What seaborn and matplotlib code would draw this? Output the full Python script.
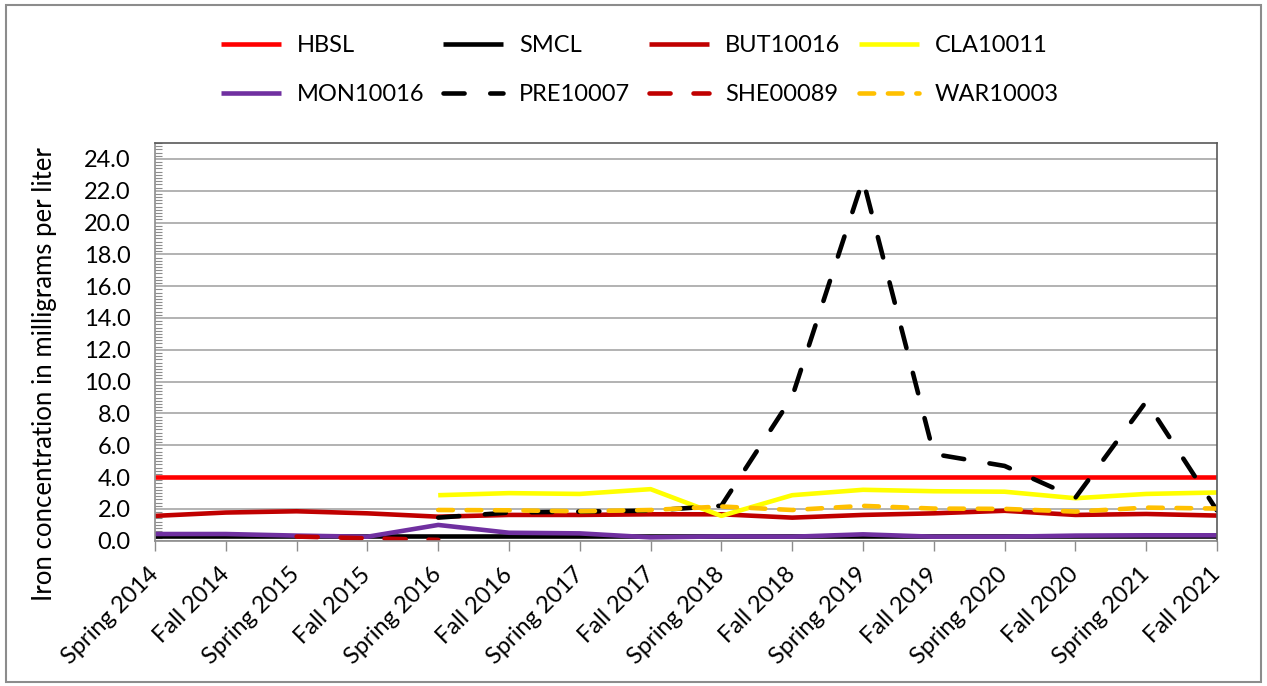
import matplotlib
matplotlib.use("Agg")
import matplotlib.pyplot as plt
from matplotlib.patches import Rectangle
from matplotlib.ticker import MultipleLocator, FormatStrFormatter
import numpy as np
import pandas as pd
import seaborn as sns

# Sampling events
seasons = ["Spring 2014", "Fall 2014", "Spring 2015", "Fall 2015",
           "Spring 2016", "Fall 2016", "Spring 2017", "Fall 2017",
           "Spring 2018", "Fall 2018", "Spring 2019", "Fall 2019",
           "Spring 2020", "Fall 2020", "Spring 2021", "Fall 2021"]

# Iron concentrations (mg/L); None = not sampled
hbsl = [4.0, 4.0, 4.0, 4.0, 4.0, 4.0, 4.0, 4.0,
        4.0, 4.0, 4.0, 4.0, 4.0, 4.0, 4.0, 4.0]
smcl = [0.3, 0.3, 0.3, 0.3, 0.3, 0.3, 0.3, 0.3,
        0.3, 0.3, 0.3, 0.3, 0.3, 0.3, 0.3, 0.3]
but10016 = [1.56, 1.77, 1.85, 1.72, 1.51, 1.62, 1.62, 1.66,
            1.66, 1.45, 1.62, 1.72, 1.88, 1.62, 1.68, 1.58]
cla10011 = [None, None, None, None, 2.86, 2.99, 2.94, 3.24,
            1.56, 2.86, 3.20, 3.11, 3.08, 2.67, 2.94, 3.03]
mon10016 = [0.42, 0.42, 0.32, 0.25, 0.99, 0.50, 0.46, 0.21,
            0.27, 0.25, 0.40, 0.25, 0.25, 0.32, 0.34, 0.34]
pre10007 = [None, None, None, None, 1.45, 1.77, 1.83, 1.89,
            2.20, 9.05, 22.7, 5.45, 4.70, 2.70, 8.75, 1.90]
she00089 = [None, None, 0.26, 0.15, 0.05, None, None, None,
            None, None, None, None, None, None, None, None]
war10003 = [None, None, None, None, 1.93, 1.91, 1.85, 1.93,
            2.15, 1.93, 2.19, 2.02, 2.00, 1.83, 2.08, 2.02]

series_names = ["HBSL", "SMCL", "BUT10016", "CLA10011",
                "MON10016", "PRE10007", "SHE00089", "WAR10003"]
series_values = [hbsl, smcl, but10016, cla10011,
                 mon10016, pre10007, she00089, war10003]

palette = {"HBSL": "#FF0000", "SMCL": "#000000", "BUT10016": "#C00000",
           "CLA10011": "#FFFF00", "MON10016": "#7030A0", "PRE10007": "#000000",
           "SHE00089": "#C00000", "WAR10003": "#FFC000"}
dash_styles = {"HBSL": "", "SMCL": "", "BUT10016": "", "CLA10011": "",
               "MON10016": "", "PRE10007": (4.6, 5.6), "SHE00089": (4.6, 5.0),
               "WAR10003": (3.2, 3.0)}

rows = []
for name, vals in zip(series_names, series_values):
    for i, v in enumerate(vals):
        if v is not None:
            rows.append({"pos": i, "value": v, "series": name})
df = pd.DataFrame(rows)

sns.set_theme(style="white")
plt.rcParams["font.family"] = ["Lato", "DejaVu Sans"]
text_color = "#000000"
fs = 17

fig = plt.figure(figsize=(12.67, 6.86), dpi=100)
ax = fig.add_axes([155 / 1267, 1 - 540.7 / 686, (1217 - 155) / 1267, (540.7 - 143) / 686])

sns.lineplot(data=df, x="pos", y="value", hue="series", style="series",
             hue_order=series_names, style_order=series_names,
             palette=palette, dashes=dash_styles, estimator=None, sort=False,
             linewidth=3.3, legend=False, ax=ax)

for line in ax.lines:
    line.set_dash_capstyle("round")
    line.set_solid_capstyle("butt")

ax.set_xlim(0, len(seasons) - 1)
ax.set_ylim(0, 25)
ax.set_xticks(np.arange(len(seasons)))
ax.set_xticklabels(seasons, rotation=45, ha="right", va="center",
                   rotation_mode="anchor", fontsize=fs, color=text_color)
ax.yaxis.set_minor_locator(MultipleLocator(0.2))
ax.yaxis.set_major_formatter(FormatStrFormatter("%.1f"))
ax.set_yticks(np.arange(0, 24.1, 2))
ax.tick_params(axis="y", which="major", direction="inout", length=11,
               width=1.0, color="#8c8c8c", pad=12, labelsize=fs, labelcolor=text_color)
ax.tick_params(axis="y", which="minor", direction="in", length=5,
               width=0.8, color="#8c8c8c", left=True)
ax.tick_params(axis="x", which="major", direction="out", length=7,
               width=1.0, color="#8c8c8c", pad=15, bottom=True)
ax.grid(axis="y", which="major", color="#a6a6a6", linewidth=1.2)
ax.grid(axis="x", visible=False)
ax.set_axisbelow(True)

for side in ["left", "bottom"]:
    ax.spines[side].set_color("#8c8c8c")
    ax.spines[side].set_linewidth(1.2)
for side in ["top", "right"]:
    ax.spines[side].set_color("#595959")
    ax.spines[side].set_linewidth(1.2)

ax.set_xlabel("")
ax.set_ylabel("Iron concentration in milligrams per liter", fontsize=18.5,
              color=text_color)
ax.yaxis.set_label_coords(-0.092, 0.42)

# Legend filled row by row: four entries per row
line_by_name = dict(zip(series_names, ax.lines))
legend_order = ["HBSL", "MON10016", "SMCL", "PRE10007",
                "BUT10016", "SHE00089", "CLA10011", "WAR10003"]
fig.legend([line_by_name[n] for n in legend_order], legend_order, ncol=4,
           loc="center", bbox_to_anchor=(0.505, 0.898), frameon=False,
           fontsize=fs, handlelength=2.55, handletextpad=0.68,
           columnspacing=0.78, labelspacing=1.2, labelcolor=text_color)

fig.patches.append(Rectangle((6 / 1267, 4 / 686), 1255 / 1267, 677 / 686,
                             transform=fig.transFigure, fill=False,
                             edgecolor="#8c8c8c", linewidth=1.5))

fig.savefig("out.png", dpi=100)
